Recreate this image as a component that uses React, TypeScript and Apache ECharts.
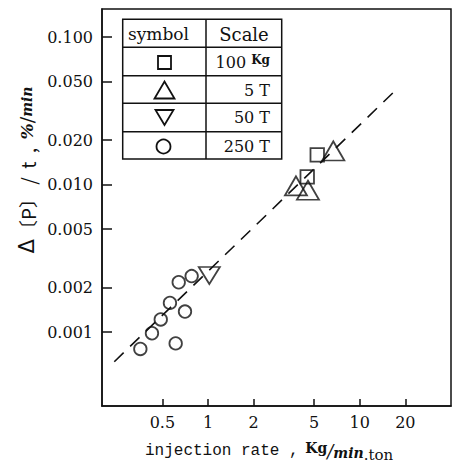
import React, { useEffect, useRef } from "react";
import * as echarts from "echarts";

// ---- data ----
const xTickValues = [0.5, 1, 2, 5, 10, 20];
const xTickLabels = ["0.5", "1", "2", "5", "10", "20"];
const yTickValues = [0.001, 0.002, 0.005, 0.01, 0.02, 0.05, 0.1];
const yTickLabels = ["0.001", "0.002", "0.005", "0.010", "0.020", "0.050", "0.100"];

const circleX = [0.358, 0.427, 0.488, 0.561, 0.641, 0.78, 0.705, 0.612];
const circleY = [0.00077, 0.000984, 0.00122, 0.00158, 0.00218, 0.0024, 0.00138, 0.00084];
const squareX = [5.25, 4.51];
const squareY = [0.0159, 0.0113];
const triUpX = [6.7, 3.8, 4.56];
const triUpY = [0.0169, 0.0098, 0.00916];
const triDownX = [1.02];
const triDownY = [0.00242];
const fitX = [0.241, 16.9];
const fitY = [0.000631, 0.0427];

const legendSymbols = ["square", "triangle", "invTriangle", "circle"];
const legendScales = ["100 Kg", "5 T", "50 T", "250 T"];

const INK = "#111";
const lg = (v: number) => Math.log10(v);
const pts = (xs: number[], ys: number[]) => xs.map((x, i) => [lg(x), lg(ys[i])]);
const findLabel = (vals: number[], labels: string[], v: number) => {
  const i = vals.findIndex((t) => Math.abs(lg(t) - v) < 1e-6);
  return i >= 0 ? labels[i] : "";
};

export default function App() {
  const ref = useRef<HTMLDivElement>(null);
  useEffect(() => {
    if (!ref.current) return;
    const chart = echarts.init(ref.current, null, { renderer: "svg" });
    const markerStyle = { color: "rgba(0,0,0,0)", borderColor: INK, borderWidth: 1.8 };

    // legend table
    const tx0 = 122.7, tx1 = 281.7, ty0 = 19.3, ty1 = 159, tcol = 206;
    const rowLines = [47.3, 75.7, 103.3, 131.7];
    const rowCenters = [62.5, 90, 117.5, 146.5];
    const symX = 164.5;
    const graphics: any[] = [
      { type: "rect", shape: { x: tx0, y: ty0, width: tx1 - tx0, height: ty1 - ty0 }, style: { fill: "#fff", stroke: INK, lineWidth: 1.5 } },
      { type: "line", shape: { x1: tcol, y1: ty0, x2: tcol, y2: ty1 }, style: { stroke: INK, lineWidth: 1.5 } },
      ...rowLines.map((y) => ({ type: "line", shape: { x1: tx0, y1: y, x2: tx1, y2: y }, style: { stroke: INK, lineWidth: 1.5 } })),
      { type: "text", style: { text: "symbol", x: 158.5, y: 34, align: "center", verticalAlign: "middle", font: "17px 'DejaVu Serif'", fill: INK } },
      { type: "text", style: { text: "Scale", x: 244, y: 34, align: "center", verticalAlign: "middle", font: "18px 'DejaVu Serif'", fill: INK } },
    ];
    legendSymbols.forEach((s, i) => {
      const cy = rowCenters[i];
      const st = { fill: "none", stroke: INK, lineWidth: 1.8 };
      if (s === "square") graphics.push({ type: "rect", shape: { x: symX - 6.5, y: cy - 6.5, width: 13, height: 13 }, style: st });
      if (s === "triangle") graphics.push({ type: "polygon", shape: { points: [[symX - 10, cy + 8.5], [symX + 10, cy + 8.5], [symX, cy - 8.5]] }, style: st });
      if (s === "invTriangle") graphics.push({ type: "polygon", shape: { points: [[symX - 9, cy - 7.5], [symX + 9, cy - 7.5], [symX, cy + 7.5]] }, style: st });
      if (s === "circle") graphics.push({ type: "circle", shape: { cx: symX - 1, cy, r: 7 }, style: st });
      const label = legendScales[i];
      const m = label.match(/^(\d+) Kg$/);
      graphics.push({
        type: "text",
        style: {
          text: m ? `{n|${m[1]} }{k|Kg}` : `{n|${label}}`,
          x: 270, y: cy, align: "right", verticalAlign: "middle", fill: INK,
          rich: {
            n: { font: "16px 'DejaVu Serif'", fill: INK },
            k: { font: "bold 12px 'DejaVu Serif'", fill: INK, padding: [0, 0, 5, 0] },
          },
        },
      });
    });

    // axis titles
    graphics.push({
      type: "text",
      style: {
        text: "{a|injection rate ,}  {k|Kg}{s|/}{m|min}{t|.ton}",
        x: 145, y: 451, align: "left", verticalAlign: "middle", fill: INK,
        rich: {
          a: { font: "16px 'Liberation Mono'", fill: INK },
          k: { font: "bold 14px 'DejaVu Serif'", fill: INK, padding: [0, 0, 6, 0] },
          s: { font: "italic 18px 'DejaVu Serif'", fill: INK },
          m: { font: "italic bold 14px 'DejaVu Serif'", fill: INK, padding: [3, 0, 0, 0] },
          t: { font: "15px 'DejaVu Serif'", fill: INK, padding: [7, 0, 0, 0] },
        },
      },
    });
    graphics.push({
      type: "text",
      x: 27, y: 170, rotation: Math.PI / 2,
      style: {
        text: "{d|Δ}{a|〔P〕 /  t  ,  }{p|%}{s|/}{m|min}",
        x: 0, y: 0, align: "center", verticalAlign: "middle", fill: INK,
        rich: {
          d: { font: "21px 'DejaVu Sans'", fill: INK },
          a: { font: "19px 'Noto Sans CJK JP'", fill: INK },
          p: { font: "italic bold 17px 'DejaVu Serif'", fill: INK },
          s: { font: "19px 'DejaVu Serif'", fill: INK },
          m: { font: "italic bold 14px 'DejaVu Serif'", fill: INK },
        },
      },
    });

    chart.setOption({
      animation: false,
      grid: { left: 102, top: 9, width: 349, height: 397, show: true, borderColor: INK, borderWidth: 1.5, backgroundColor: "transparent" },
      xAxis: {
        type: "value",
        min: lg(0.2),
        max: lg(40),
        axisLine: { show: true, onZero: false, lineStyle: { color: INK, width: 1.5 } },
        axisTick: { show: true, inside: true, length: 7, lineStyle: { color: INK, width: 1.5 }, customValues: xTickValues.map(lg) },
        axisLabel: {
          customValues: xTickValues.map(lg),
          formatter: (v: number) => findLabel(xTickValues, xTickLabels, v),
          color: INK, fontSize: 16, fontFamily: "DejaVu Serif", margin: 8,
        },
        splitLine: { show: false },
      },
      yAxis: {
        type: "value",
        min: -3.5,
        max: -0.81,
        axisLine: { show: true, onZero: false, lineStyle: { color: INK, width: 1.5 } },
        axisTick: { show: true, inside: true, length: 10, lineStyle: { color: INK, width: 1.5 }, customValues: yTickValues.map(lg) },
        axisLabel: {
          customValues: yTickValues.map(lg),
          formatter: (v: number) => findLabel(yTickValues, yTickLabels, v),
          color: INK, fontSize: 16, fontFamily: "DejaVu Serif", margin: 9,
        },
        splitLine: { show: false },
      },
      series: [
        {
          type: "line", data: pts(fitX, fitY), symbol: "none", z: 1,
          lineStyle: { color: INK, width: 1.6, type: [13, 9] },
        },
        { type: "scatter", data: pts(circleX, circleY), symbol: "circle", symbolSize: 12.5, itemStyle: markerStyle, z: 2 },
        { type: "scatter", data: pts(squareX, squareY), symbol: "rect", symbolSize: 13.5, itemStyle: markerStyle, z: 2 },
        { type: "scatter", data: pts(triUpX, triUpY), symbol: "triangle", symbolSize: [22, 19], itemStyle: markerStyle, z: 2 },
        { type: "scatter", data: pts(triDownX, triDownY), symbol: "path://M0,0 L2,0 L1,2 Z", symbolSize: [21, 17], itemStyle: markerStyle, z: 2 },
      ],
      graphic: graphics,
    });
    return () => chart.dispose();
  }, []);
  return <div ref={ref} style={{ position: "fixed", left: 0, top: 0, width: 452, height: 462, background: "#fff" }} />;
}
